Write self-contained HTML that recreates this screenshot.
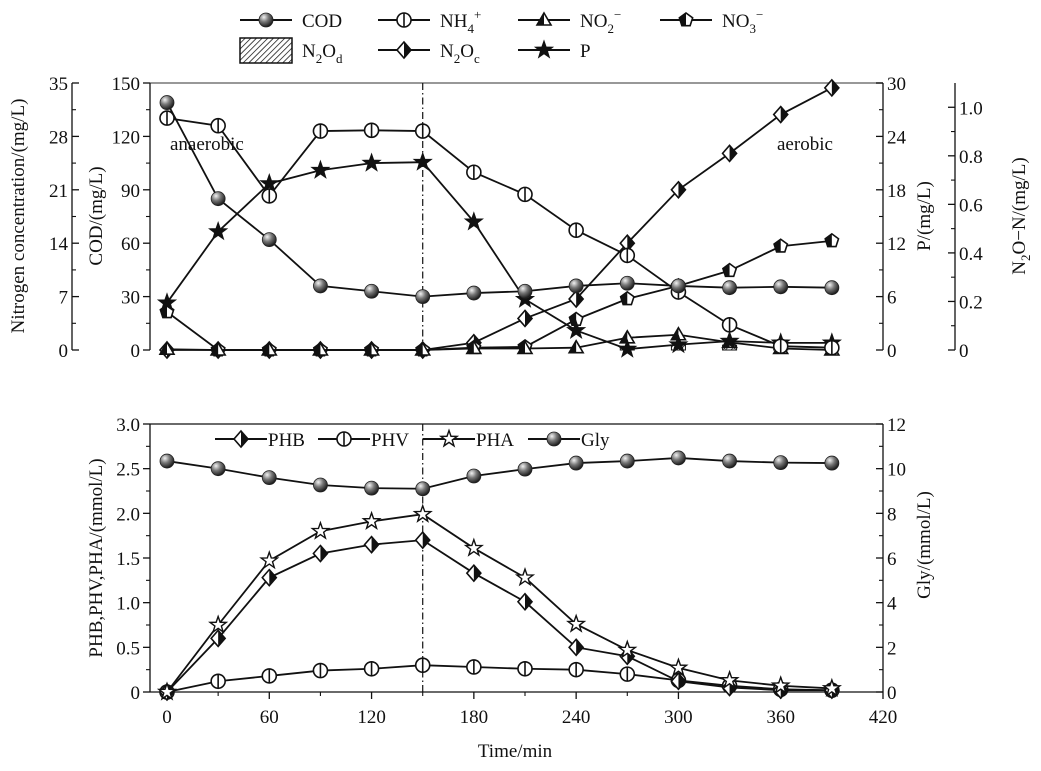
<!DOCTYPE html>
<html><head><meta charset="utf-8">
<style>
html,body{margin:0;padding:0;background:#fff;}
svg{display:block;font-family:"Liberation Serif",serif;}
</style></head>
<body>
<svg id="chart" width="1041" height="771" viewBox="0 0 1041 771" xmlns="http://www.w3.org/2000/svg">
<defs>
<radialGradient id="sph" cx="0.35" cy="0.3" r="0.75">
<stop offset="0" stop-color="#f2f2f2"/><stop offset="0.45" stop-color="#777"/><stop offset="1" stop-color="#111"/>
</radialGradient>
<pattern id="hatch" width="4" height="4" patternUnits="userSpaceOnUse" patternTransform="rotate(45)">
<rect width="4" height="4" fill="#fff"/><line x1="0" y1="0" x2="0" y2="4" stroke="#000" stroke-width="1.4"/>
</pattern>
</defs>
</svg>
<script>
// ---------- data ----------
const times = [0,30,60,90,120,150,180,210,240,270,300,330,360,390];
const codVals = [139,85,62,36,33,30,32,33,36,37.5,36,35,35.5,35];
const nh4Vals = [30.4,29.4,20.2,28.7,28.8,28.7,23.3,20.4,15.7,12.4,7.6,3.3,0.5,0.3];
const no2Vals = [0.1,0,0,0,0,0,0.2,0.2,0.3,1.6,2.0,1.0,0.2,0];
const no3Vals = [5.0,0,0,0,0,0,0.3,0.4,4.0,6.7,8.4,10.4,13.6,14.3];
const n2ocVals = [0,0,0,0,0,0,0.03,0.13,0.21,0.44,0.66,0.81,0.97,1.08];
const n2odTimes = [270,300,330,360];
const n2odVals = [0.015,0.02,0.02,0.01];
const pVals = [5.3,13.3,18.7,20.2,21,21.1,14.4,5.7,2.2,0.1,0.6,1.0,0.8,0.8];
const phbVals = [0,0.6,1.28,1.55,1.65,1.7,1.33,1.01,0.5,0.4,0.12,0.05,0.02,0.02];
const phvVals = [0,0.12,0.18,0.24,0.26,0.3,0.28,0.26,0.25,0.2,0.13,0.07,0.03,0.02];
const phaVals = [0,0.75,1.47,1.8,1.91,1.99,1.61,1.28,0.76,0.47,0.27,0.13,0.07,0.04];
const glyVals = [10.34,10.0,9.6,9.27,9.13,9.1,9.67,9.98,10.25,10.34,10.48,10.34,10.27,10.25];
const xTicks = [0,60,120,180,240,300,360,420];
const nTicks = [0,7,14,21,28,35];
const codTicks = [0,30,60,90,120,150];
const pTicks = [0,6,12,18,24,30];
const n2oTicks = [0,0.2,0.4,0.6,0.8,1.0];
const phTicks = [0,0.5,1.0,1.5,2.0,2.5,3.0];
const glyTicks = [0,2,4,6,8,10,12];

// ---------- helpers ----------
const NS="http://www.w3.org/2000/svg";
const svg=document.getElementById('chart');
function mk(tag,attrs,parent){const e=document.createElementNS(NS,tag);for(const k in attrs)e.setAttribute(k,attrs[k]);(parent||svg).appendChild(e);return e;}
function txt(s,x,y,opt,parent){const e=mk('text',Object.assign({x:x,y:y,'font-size':19,fill:'#111'},opt||{}),parent);e.textContent=s;return e;}
const X0=167,X1=883,T0=0,T1=420;
const xs=t=>X0+(t-T0)/(T1-T0)*(X1-X0);
const L=150,R=883;
const TT=83,TB=350, BT=424,BB=692;
const yN=v=>TB-v/35*(TB-TT);
const yC=v=>TB-v/150*(TB-TT);
const yP=v=>TB-v/30*(TB-TT);
const yO=v=>TB-v/1.1*(TB-TT);
const yPH=v=>BB-v/3*(BB-BT);
const yG=v=>BB-v/12*(BB-BT);

function marker(type,x,y,g){
  const r=7;
  if(type==='sphere'){mk('circle',{cx:x,cy:y,r:r,fill:'url(#sph)',stroke:'#222','stroke-width':0.8},g);}
  else if(type==='phi'){mk('circle',{cx:x,cy:y,r:r,fill:'#fff',stroke:'#111','stroke-width':1.6},g);mk('line',{x1:x,y1:y-r,x2:x,y2:y+r,stroke:'#111','stroke-width':1.6},g);}
  else if(type==='tri'){mk('path',{d:`M${x},${y-7}L${x+7},${y+5}L${x-7},${y+5}Z`,fill:'#fff',stroke:'#111','stroke-width':1.6},g);mk('path',{d:`M${x},${y-7}L${x},${y+5}L${x-7},${y+5}Z`,fill:'#111'},g);}
  else if(type==='pent'){const pts=[];for(let i=0;i<5;i++){const a=-Math.PI/2+i*2*Math.PI/5;pts.push([x+r*Math.cos(a),y+r*Math.sin(a)]);}
    mk('path',{d:'M'+pts.map(p=>p.join(',')).join('L')+'Z',fill:'#fff',stroke:'#111','stroke-width':1.6},g);
    mk('path',{d:`M${x},${y-r}L${pts[4][0]},${pts[4][1]}L${pts[3][0]},${pts[3][1]}L${x},${pts[3][1]}Z`,fill:'#111'},g);}
  else if(type==='diam'){mk('path',{d:`M${x},${y-8}L${x+7},${y}L${x},${y+8}L${x-7},${y}Z`,fill:'#fff',stroke:'#111','stroke-width':1.6},g);mk('path',{d:`M${x},${y-8}L${x},${y+8}L${x+7},${y}Z`,fill:'#111'},g);}
  else if(type==='star'||type==='ostar'){const pts=[];for(let i=0;i<10;i++){const a=-Math.PI/2+i*Math.PI/5;const rr=i%2?3.4:8.5;pts.push([x+rr*Math.cos(a),y+rr*Math.sin(a)]);}
    mk('path',{d:'M'+pts.map(p=>p.join(',')).join('L')+'Z',fill:type==='star'?'#111':'#fff',stroke:'#111','stroke-width':1.4},g);}
}
function series(name,tArr,vArr,yf,type){
  const g=mk('g',{});
  
  
  mk('polyline',{points:tArr.map((t,i)=>xs(t)+','+yf(vArr[i])).join(' '),fill:'none',stroke:'#111','stroke-width':1.8},g);
  tArr.forEach((t,i)=>marker(type,xs(t),yf(vArr[i]),g));
}
function axis(name,xLine,y0,y1,ticks,yf,dir,labelSide,fmt,minor){
  const g=mk('g',{});
  
  
  mk('line',{x1:xLine,y1:y0,x2:xLine,y2:y1,stroke:'#111','stroke-width':1.3},g);
  ticks.forEach((v,i)=>{const y=yf(v);
    mk('line',{x1:xLine,y1:y,x2:xLine+dir*7,y2:y,stroke:'#111','stroke-width':1.3},g);
    if(minor&&i<ticks.length-1){const ym=yf((v+ticks[i+1])/2);mk('line',{x1:xLine,y1:ym,x2:xLine+dir*4,y2:ym,stroke:'#111','stroke-width':1.1},g);}
    const lx=labelSide<0?xLine-(dir<0?10:4):xLine+(dir>0?10:4);
    txt(fmt(v),lx,y+7,{'text-anchor':labelSide<0?'end':'start'},g);
  });
}
function vlabel(s,x,y,name,sub){
  const e=mk('text',{transform:`translate(${x},${y}) rotate(-90)`,'text-anchor':'middle','font-size':19,fill:'#111'});
  
  
  e.innerHTML=s;
}

// ---------- top panel ----------
mk('line',{x1:L,y1:TT,x2:R,y2:TT,stroke:'#777','stroke-width':1.5});
axis('nitrogen-axis',72,TT,TB,nTicks,yN,1,-1,v=>String(v),true);
axis('cod-axis',L,TT,TB,codTicks,yC,-1,-1,v=>String(v),true);
axis('p-axis',R,TT,TB,pTicks,yP,-1,1,v=>String(v),true);
axis('n2o-axis',955,TT,TB,n2oTicks,yO,-1,1,v=>v===0?'0':v.toFixed(1),true);
vlabel('Nitrogen concentration/(mg/L)',24,216,'nitrogen-axis-title');
vlabel('COD/(mg/L)',102,216,'cod-axis-title');
vlabel('P/(mg/L)',930,216,'p-axis-title');
vlabel('N<tspan dy="5" font-size="13">2</tspan><tspan dy="-5">O−N/(mg/L)</tspan>',1025,216,'n2o-axis-title');
mk('line',{x1:xs(150),y1:TT,x2:xs(150),y2:TB,stroke:'#111','stroke-width':1.2,'stroke-dasharray':'7,3,1.5,3'});
n2odTimes.forEach((t,i)=>{const y=yO(n2odVals[i]);const b=mk('rect',{x:xs(t)-7,y:y,width:14,height:TB-y,fill:'url(#hatch)',stroke:'#111','stroke-width':1});
  
  });
series('n2oc-series',times,n2ocVals,yO,'diam');
series('no3-series',times,no3Vals,yN,'pent');
series('no2-series',times,no2Vals,yN,'tri');
series('p-series',times,pVals,yP,'star');
series('nh4-series',times,nh4Vals,yN,'phi');
series('cod-series',times,codVals,yC,'sphere');
let a1=txt('anaerobic',170,150,{});
let a2=txt('aerobic',777,150,{});

// top legend
function legItem(name,x,y,type,label){
  const g=mk('g',{});
  
  
  if(type==='bar'){mk('rect',{x:x,y:y-12,width:52,height:25,fill:'url(#hatch)',stroke:'#111','stroke-width':1.5},g);}
  else{mk('line',{x1:x,y1:y,x2:x+52,y2:y,stroke:'#111','stroke-width':2},g);marker(type,x+26,y,g);}
  const t=txt('',x+62,y+7,{},g);t.innerHTML=label;
}
legItem('legend-cod',240,20,'sphere','COD');
legItem('legend-nh4',378,20,'phi','NH<tspan dy="6" font-size="13">4</tspan><tspan dy="-14" font-size="13">+</tspan>');
legItem('legend-no2',518,20,'tri','NO<tspan dy="6" font-size="13">2</tspan><tspan dy="-14" font-size="13">−</tspan>');
legItem('legend-no3',660,20,'pent','NO<tspan dy="6" font-size="13">3</tspan><tspan dy="-14" font-size="13">−</tspan>');
legItem('legend-n2od',240,50,'bar','N<tspan dy="6" font-size="13">2</tspan><tspan dy="-6">O</tspan><tspan dy="6" font-size="13">d</tspan>');
legItem('legend-n2oc',378,50,'diam','N<tspan dy="6" font-size="13">2</tspan><tspan dy="-6">O</tspan><tspan dy="6" font-size="13">c</tspan>');
legItem('legend-p',518,50,'star','P');

// ---------- bottom panel ----------
mk('line',{x1:L,y1:BT,x2:R,y2:BT,stroke:'#111','stroke-width':1.3});
mk('line',{x1:L,y1:BB,x2:R,y2:BB,stroke:'#111','stroke-width':1.3});
axis('pha-axis',L,BT,BB,phTicks,yPH,-1,-1,v=>v===0?'0':v.toFixed(1),true);
axis('gly-axis',R,BT,BB,glyTicks,yG,-1,1,v=>String(v),true);
const xg=mk('g',{});


xTicks.forEach((t,i)=>{mk('line',{x1:xs(t),y1:BB,x2:xs(t),y2:BB+7,stroke:'#111','stroke-width':1.3},xg);
  if(i<xTicks.length-1)mk('line',{x1:xs(t+30),y1:BB,x2:xs(t+30),y2:BB+4,stroke:'#111','stroke-width':1.1},xg);
  txt(String(t),xs(t),723,{'text-anchor':'middle'},xg);});
let xt=txt('Time/min',515,757,{'text-anchor':'middle'});
vlabel('PHB,PHV,PHA/(mmol/L)',102,558,'pha-axis-title');
vlabel('Gly/(mmol/L)',930,545,'gly-axis-title');
mk('line',{x1:xs(150),y1:BT,x2:xs(150),y2:BB,stroke:'#111','stroke-width':1.2,'stroke-dasharray':'7,3,1.5,3'});
series('phv-series',times,phvVals,yPH,'phi');
series('phb-series',times,phbVals,yPH,'diam');
series('pha-series',times,phaVals,yPH,'ostar');
series('gly-series',times,glyVals,yG,'sphere');
function legItem2(name,x,type,label){
  const g=mk('g',{});
  
  
  mk('line',{x1:x,y1:439,x2:x+52,y2:439,stroke:'#111','stroke-width':2},g);marker(type,x+26,439,g);
  txt(label,x+53,446,{},g);
}
legItem2('legend-phb',215,'diam','PHB');
legItem2('legend-phv',318,'phi','PHV');
legItem2('legend-pha',423,'ostar','PHA');
legItem2('legend-gly',528,'sphere','Gly');
</script>
</body></html>
